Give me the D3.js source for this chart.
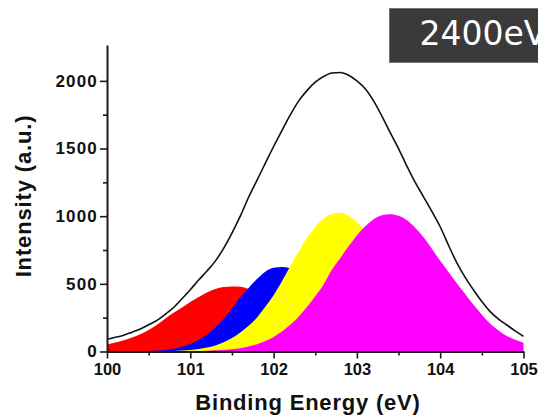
<!DOCTYPE html>
<html>
<head>
<meta charset="utf-8">
<script src="https://cdn.jsdelivr.net/npm/d3@7.9.0/dist/d3.min.js"></script>
<style>
  html, body { margin: 0; padding: 0; background: #fff; }
  svg { display: block; }
  .tick-label { font-family: "Liberation Sans", Arial, sans-serif; font-weight: bold; }
</style>
</head>
<body>
<svg id="chart" width="538" height="418"></svg>
<script>
// ====== DATA (0.1 eV steps) ======

const energy = [
  100.0, 100.1, 100.2, 100.3, 100.4, 100.5, 100.6, 100.7, 100.8, 100.9,
  101.0, 101.1, 101.2, 101.3, 101.4, 101.5, 101.6, 101.7, 101.8, 101.9,
  102.0, 102.1, 102.2, 102.3, 102.4, 102.5, 102.6, 102.7, 102.8, 102.9,
  103.0, 103.1, 103.2, 103.3, 103.4, 103.5, 103.6, 103.7, 103.8, 103.9,
  104.0, 104.1, 104.2, 104.3, 104.4, 104.5, 104.6, 104.7, 104.8, 104.9,
  105.0
];

// measured envelope (black line)
const envelope = [
  90, 105, 120, 143, 167, 198, 230, 275, 325, 390,
  457, 528, 595, 668, 762, 875, 1000, 1140, 1265, 1390,
  1515, 1632, 1748, 1850, 1928, 1990, 2032, 2058, 2062, 2042,
  2000, 1942, 1852, 1740, 1617, 1500, 1370, 1250, 1143, 1035,
  922, 785, 655, 548, 455, 370, 295, 240, 196, 152,
  112
];

// fitted components, painted in this order
const peakRed = [
  51, 66, 84, 104, 128, 158, 198, 244, 286, 326,
  366, 403, 436, 462, 476, 480, 478, 462, 430, 400,
  368, 330, 290, 250, 212, 176, 143, 114, 89, 68,
  51, 37, 27, 19, 13, 9, 6, 4, 2, 1,
  0, 0, 0, 0, 0, 0, 0, 0, 0, 0,
  0
];

const peakBlue = [
  0, 0, 0, 1, 2, 4, 7, 12, 21, 35,
  56, 85, 124, 178, 240, 315, 400, 470, 535, 590,
  618, 625, 615, 577, 522, 454, 379, 304, 235, 174,
  124, 85, 56, 35, 21, 12, 7, 4, 2, 1,
  0, 0, 0, 0, 0, 0, 0, 0, 0, 0,
  0
];

const peakYellow = [
  0, 0, 0, 0, 0, 1, 2, 3, 4, 7,
  11, 18, 29, 45, 68, 99, 140, 190, 250, 330,
  415, 520, 630, 738, 838, 920, 982, 1016, 1025, 1004,
  957, 886, 797, 697, 592, 489, 392, 306, 232, 171,
  122, 85, 58, 38, 24, 15, 9, 5, 3, 2,
  1
];

const peakMagenta = [
  0, 0, 0, 0, 0, 0, 0, 0, 0, 0,
  2, 4, 6, 9, 12, 16, 24, 37, 54, 77,
  108, 148, 197, 257, 328, 408, 496, 605, 690, 778,
  858, 926, 977, 1007, 1015, 1003, 970, 915, 845, 760,
  670, 588, 505, 425, 346, 272, 205, 155, 115, 87,
  65
];

const components = [
  { name: 'red', values: peakRed, color: '#ff0000' },
  { name: 'blue', values: peakBlue, color: '#0000ff' },
  { name: 'yellow', values: peakYellow, color: '#ffff00' },
  { name: 'magenta', values: peakMagenta, color: '#ff00ff' },
];

const xMajorTicks = [100, 101, 102, 103, 104, 105];
const xMinorTicks = [100.5, 101.5, 102.5, 103.5, 104.5];
const yMajorTicks = [0, 500, 1000, 1500, 2000];
const yMinorTicks = [250, 750, 1250, 1750];

const xTitle = 'Binding Energy (eV)';
const yTitle = 'Intensity (a.u.)';
const panelLabel = '2400eV';

// ====== SCALES ======

const svg = d3.select('#chart');

const x = d3.scaleLinear().domain([100, 105]).range([107, 523.5]);
const y = d3.scaleLinear().domain([0, 2265]).range([351.5, 45]);

// ====== FILLED PEAKS ======

const area = d3
  .area()
  .x((d, i) => x(energy[i]))
  .y0(y(0))
  .y1((d) => y(d))
  .curve(d3.curveMonotoneX);

svg
  .append('g')
  .selectAll('path')
  .data(components)
  .join('path')
  .attr('d', (d) => area(d.values))
  .attr('fill', (d) => d.color);

// ====== ENVELOPE ======

const line = d3
  .line()
  .x((d, i) => x(energy[i]))
  .y((d) => y(d))
  .curve(d3.curveMonotoneX);

svg
  .append('path')
  .attr('d', line(envelope))
  .attr('fill', 'none')
  .attr('stroke', '#111')
  .attr('stroke-width', 1.6);

// ====== AXES ======

function styleAxis(g) {
  g.select('.domain').attr('stroke', '#1a1a1a').attr('stroke-width', 2);
  g.selectAll('.tick line').attr('stroke', '#1a1a1a').attr('stroke-width', 1.6);
  g.selectAll('.tick text')
    .attr('class', 'tick-label')
    .attr('fill', '#111')
    .attr('font-family', null)
    .attr('font-size', null);
}

// minor ticks first, without labels or domain
svg
  .append('g')
  .attr('transform', `translate(0,${y(0)})`)
  .call(d3.axisBottom(x).tickValues(xMinorTicks).tickSize(4).tickFormat(''))
  .call((g) => g.select('.domain').remove())
  .call(styleAxis);

svg
  .append('g')
  .attr('transform', `translate(${x(100)},0)`)
  .call(d3.axisLeft(y).tickValues(yMinorTicks).tickSize(4).tickFormat(''))
  .call((g) => g.select('.domain').remove())
  .call(styleAxis);

const xAxis = svg
  .append('g')
  .attr('transform', `translate(0,${y(0)})`)
  .call(
    d3.axisBottom(x).tickValues(xMajorTicks).tickSize(7).tickSizeOuter(0).tickPadding(5).tickFormat(d3.format('d'))
  )
  .call(styleAxis);

xAxis.selectAll('.tick text').style('font-size', '16.5px');

const yAxis = svg
  .append('g')
  .attr('transform', `translate(${x(100)},0)`)
  .call(
    d3.axisLeft(y).tickValues(yMajorTicks).tickSize(7).tickSizeOuter(0).tickPadding(2).tickFormat(d3.format('d'))
  )
  .call(styleAxis);

yAxis.selectAll('.tick text').style('font-size', '17px').style('letter-spacing', '1.2px');

// ====== TITLES ======

svg
  .append('text')
  .attr('class', 'tick-label')
  .attr('x', 308)
  .attr('y', 410)
  .attr('text-anchor', 'middle')
  .style('font-size', '22px')
  .style('letter-spacing', '0.8px')
  .attr('fill', '#111')
  .text(xTitle);

svg
  .append('text')
  .attr('class', 'tick-label')
  .attr('transform', 'translate(31,196) rotate(-90)')
  .attr('text-anchor', 'middle')
  .style('font-size', '22px')
  .style('letter-spacing', '0.85px')
  .attr('fill', '#111')
  .text(yTitle);

// ====== PANEL LABEL BOX ======

svg
  .append('rect')
  .attr('x', 389.5)
  .attr('y', 8.5)
  .attr('width', 160)
  .attr('height', 54)
  .attr('fill', '#3a3a3a')
  .attr('stroke', '#6a6a6a')
  .attr('stroke-width', 0.8);

svg
  .append('text')
  .attr('x', 419.5)
  .attr('y', 44.5)
  .attr('font-family', '"DejaVu Sans", sans-serif')
  .attr('font-size', 33)
  .attr('fill', '#ffffff')
  .text(panelLabel);
</script>
</body>
</html>
